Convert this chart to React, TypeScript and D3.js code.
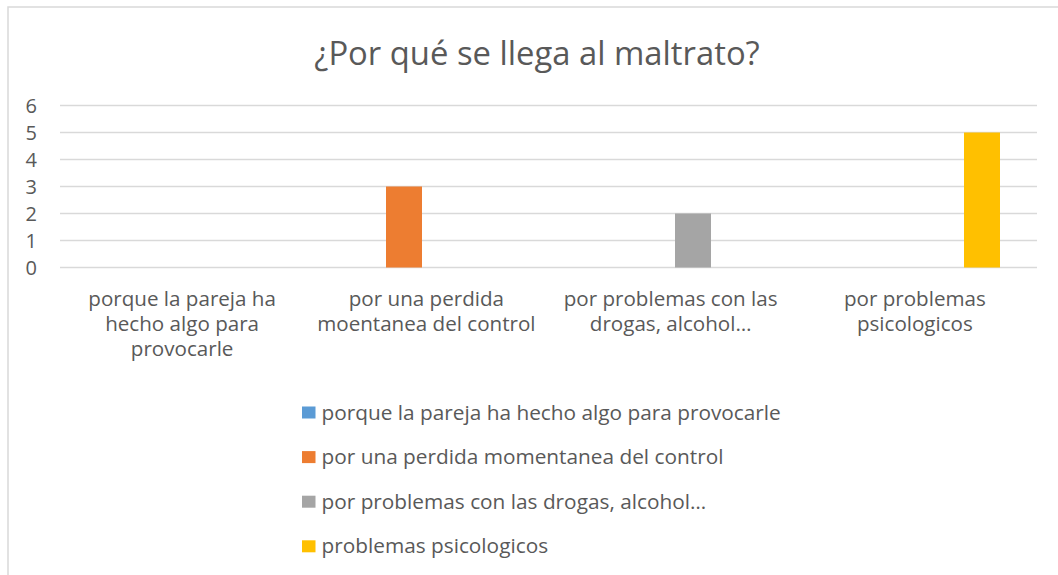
import React from "react";
import * as d3 from "d3";

const title = "¿Por qué se llega al maltrato?";
const categories = [
  "porque la pareja ha hecho algo para provocarle",
  "por una perdida moentanea del control",
  "por problemas con las drogas, alcohol…",
  "por problemas psicologicos",
];
const categoryLines = [
  ["porque la pareja ha", "hecho algo para", "provocarle"],
  ["por una perdida", "moentanea del control"],
  ["por problemas con las", "drogas, alcohol…"],
  ["por problemas", "psicologicos"],
];
const seriesNames = [
  "porque la pareja ha hecho algo para provocarle",
  "por una perdida momentanea del control",
  "por problemas con las drogas, alcohol…",
  "problemas psicologicos",
];
const seriesColors = ["#5B9BD5", "#ED7D31", "#A5A5A5", "#FFC000"];
const series1 = [0, 0, 0, 0];
const series2 = [0, 3, 0, 0];
const series3 = [0, 0, 2, 0];
const series4 = [0, 0, 0, 5];
const seriesValues = [series1, series2, series3, series4];
const yTicks = [0, 1, 2, 3, 4, 5, 6];

const W = 1058;
const H = 575;
const FONT = "'Open Sans', 'Noto Sans', sans-serif";
const TEXT = "#595959";

export default function App() {
  const plotL = 60;
  const plotR = 1037;
  const y = d3.scaleLinear().domain([0, 6]).range([267.5, 105.5]);
  const x0 = d3
    .scaleBand<number>()
    .domain(d3.range(categories.length))
    .range([plotL, plotR])
    .paddingInner(0.303)
    .paddingOuter(0.1515);
  const x1 = d3
    .scaleBand<number>()
    .domain(d3.range(seriesNames.length))
    .range([0, x0.bandwidth()])
    .paddingInner(0.1955)
    .paddingOuter(0);
  const catStep = x0.step();

  return (
    <div style={{ position: "absolute", left: 0, top: 0 }}>
      <svg width={W} height={H} style={{ display: "block", fontFamily: FONT }}>
        <rect x={0} y={0} width={W} height={H} fill="#fff" />
        {/* chart border */}
        <rect x={8} y={7} width={W + 20} height={H + 20} fill="none" stroke="#D9D9D9" strokeWidth={1.5} />
        <text x={537} y={65} textAnchor="middle" fontSize={32.8} fill={TEXT}>
          {title}
        </text>
        {/* gridlines */}
        {yTicks.map((t) => (
          <line key={t} x1={plotL} x2={plotR} y1={y(t)} y2={y(t)} stroke="#D9D9D9" strokeWidth={1.3} />
        ))}
        {/* y tick labels */}
        {yTicks.map((t) => (
          <text key={"yl" + t} x={37} y={y(t) + 7} textAnchor="end" fontSize={20} fill={TEXT}>
            {t}
          </text>
        ))}
        {/* bars */}
        {seriesValues.map((vals, si) =>
          vals.map((v, ci) =>
            v > 0 ? (
              <rect
                key={si + "-" + ci}
                x={(x0(ci) as number) + (x1(si) as number)}
                y={y(v)}
                width={x1.bandwidth()}
                height={y(0) - y(v)}
                fill={seriesColors[si]}
              />
            ) : null
          )
        )}
        {/* category labels */}
        {categoryLines.map((lines, ci) => {
          const cx = (x0(ci) as number) - catStep * 0.1515 + catStep / 2;
          return (
            <text key={"c" + ci} textAnchor="middle" fontSize={20.6} fill={TEXT}>
              {lines.map((ln, li) => (
                <tspan key={li} x={cx} y={305.5 + li * 25.3}>
                  {ln}
                </tspan>
              ))}
            </text>
          );
        })}
        {/* legend */}
        {seriesNames.map((name, si) => {
          const cy = 412.5 + si * 44.6;
          return (
            <g key={"lg" + si}>
              <rect x={302} y={cy - 6} width={13.5} height={12} fill={seriesColors[si]} />
              <text x={321.5} y={cy + 7} fontSize={20.8} fill={TEXT}>
                {name}
              </text>
            </g>
          );
        })}
      </svg>
    </div>
  );
}
